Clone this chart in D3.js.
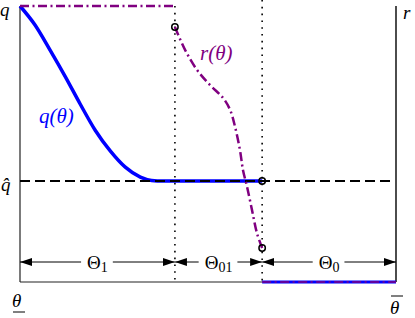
<!DOCTYPE html>
<html>
<head>
<meta charset="utf-8">
<script src="https://cdn.jsdelivr.net/npm/d3@7"></script>
<style>
  body { margin: 0; background: #fff; }
</style>
</head>
<body>
<svg width="415" height="318"></svg>
<script>
// theta runs 0..100 (theta_low .. theta_high), value 0..100 (0 .. q)
var thetaLow = 0, theta1 = 41.2, theta0 = 64.4, thetaHigh = 100;
var qTop = 100, qHat = 36.6;

// q(theta), blue
var qTheta = [0, 4, 8, 12, 16, 20, 24, 28, 32, 35, 38, 64.4];
var qValue = [100, 93.1, 84.0, 74.5, 64.5, 55.0, 47.5, 41.6, 38.0, 36.8, 36.6, 36.6];

// r(theta), purple, between theta1 and theta0
var rTheta = [41.2, 43.9, 47.1, 50.5, 54.0, 55.9, 57.2, 58.5, 59.3, 60.4, 61.7, 63.0, 64.4];
var rValue = [92.4, 84.1, 76.8, 71.4, 66.7, 62.3, 56.2, 47.8, 40.6, 34.4, 26.1, 17.8, 12.3];

// interval labels along the bottom
var segLabels = ["Θ", "Θ", "Θ"];
var segSubs = ["1", "01", "0"];
var segFrom = [thetaLow, theta1, theta0];
var segTo = [theta1, theta0, thetaHigh];

var FONT = "'Liberation Serif', 'Times New Roman', Times, 'DejaVu Serif', serif";

var svg = d3.select("svg");
var x = d3.scaleLinear().domain([0, 100]).range([20, 396]);
var y = d3.scaleLinear().domain([0, 100]).range([282, 6]);

var blue = "#0000ff", purple = "#800080";

// arrow head
svg.append("defs").append("marker")
  .attr("id", "head")
  .attr("viewBox", "0 0 12 8")
  .attr("refX", 12).attr("refY", 4)
  .attr("markerWidth", 12).attr("markerHeight", 8)
  .attr("markerUnits", "userSpaceOnUse")
  .attr("orient", "auto")
  .append("path").attr("d", "M0,0L12,4L0,8Z").attr("fill", "#000");

// frame
svg.append("line").attr("x1", x(0)).attr("x2", x(0)).attr("y1", y(qTop)).attr("y2", y(0))
  .attr("stroke", "#222").attr("stroke-width", 1.2);
svg.append("line").attr("x1", x(100)).attr("x2", x(100)).attr("y1", y(qTop)).attr("y2", y(0))
  .attr("stroke", "#000").attr("stroke-width", 1.4);
svg.append("line").attr("x1", x(0)).attr("x2", x(theta0)).attr("y1", y(0)).attr("y2", y(0))
  .attr("stroke", "#222").attr("stroke-width", 1.2);

// dotted verticals
svg.append("line").attr("x1", x(theta1)).attr("x2", x(theta1)).attr("y1", y(qTop)).attr("y2", y(0))
  .attr("stroke", "#000").attr("stroke-width", 1.6).attr("stroke-dasharray", "1.6,5.2");
svg.append("line").attr("x1", x(theta0)).attr("x2", x(theta0)).attr("y1", 0).attr("y2", y(0))
  .attr("stroke", "#000").attr("stroke-width", 1.6).attr("stroke-dasharray", "1.6,5.2");

var qLine = d3.line().curve(d3.curveMonotoneX)
  .x(function(d) { return x(d[0]); })
  .y(function(d) { return y(d[1]); });
var rLine = d3.line().curve(d3.curveCatmullRom.alpha(0.5))
  .x(function(d) { return x(d[0]); })
  .y(function(d) { return y(d[1]); });

// q(theta)
svg.append("path").attr("d", qLine(d3.zip(qTheta, qValue)))
  .attr("fill", "none").attr("stroke", blue).attr("stroke-width", 3.5);
svg.append("line").attr("x1", x(theta0)).attr("x2", x(thetaHigh)).attr("y1", y(0)).attr("y2", y(0))
  .attr("stroke", blue).attr("stroke-width", 3);

// q-hat dashed line on top
svg.append("line").attr("x1", x(0)).attr("x2", x(98.5)).attr("y1", y(qHat)).attr("y2", y(qHat))
  .attr("stroke", "#000").attr("stroke-width", 2).attr("stroke-dasharray", "10,5");

// r(theta)
var dashDot = "9,3.5,2,3.5";
svg.append("line").attr("x1", x(thetaLow)).attr("x2", x(theta1)).attr("y1", y(qTop)).attr("y2", y(qTop))
  .attr("stroke", purple).attr("stroke-width", 2.5).attr("stroke-dasharray", dashDot);
svg.append("path").attr("d", rLine(d3.zip(rTheta, rValue)))
  .attr("fill", "none").attr("stroke", purple).attr("stroke-width", 2.5).attr("stroke-dasharray", dashDot);
svg.append("line").attr("x1", x(theta0)).attr("x2", x(thetaHigh)).attr("y1", y(0)).attr("y2", y(0))
  .attr("stroke", purple).attr("stroke-width", 1.5).attr("stroke-dasharray", dashDot);

// open circles
var circ = [[theta1, rValue[0]], [theta0, qHat], [theta0, rValue[rValue.length - 1]]];
svg.selectAll("circle.pt").data(circ).enter().append("circle")
  .attr("cx", function(d) { return x(d[0]); })
  .attr("cy", function(d) { return y(d[1]); })
  .attr("r", 3.2).attr("fill", "none").attr("stroke", "#000").attr("stroke-width", 1.5);

// interval arrows
var arrowY = 262;
segLabels.forEach(function(lab, i) {
  var x0 = x(segFrom[i]), x1 = x(segTo[i]), cx = (x0 + x1) / 2;
  var t = svg.append("text").attr("x", cx).attr("y", arrowY + 7)
    .attr("text-anchor", "middle").attr("font-size", 19).attr("font-family", FONT);
  t.append("tspan").text(lab);
  t.append("tspan").attr("font-size", 14).attr("dy", 3).text(segSubs[i]);
  var bb = t.node().getBBox();
  svg.append("line").attr("x1", bb.x - 6).attr("x2", x0).attr("y1", arrowY).attr("y2", arrowY)
    .attr("stroke", "#000").attr("stroke-width", 1).attr("marker-end", "url(#head)");
  svg.append("line").attr("x1", bb.x + bb.width + 5).attr("x2", x1).attr("y1", arrowY).attr("y2", arrowY)
    .attr("stroke", "#000").attr("stroke-width", 1).attr("marker-end", "url(#head)");
});

// labels
function label(tx, ty, str, col, size) {
  return svg.append("text").attr("x", tx).attr("y", ty).attr("font-size", size || 19)
    .attr("font-family", FONT)
    .attr("font-style", "italic").attr("fill", col || "#000").text(str);
}
label(0, 16, "q");
label(1, 191, "q\u0302");
label(403, 19, "r");
label(39, 123, "q(θ)", blue, 21);
label(200, 60, "r(θ)", purple, 21);
label(12, 307, "θ");
svg.append("line").attr("x1", 13).attr("x2", 25).attr("y1", 312).attr("y2", 312)
  .attr("stroke", "#000").attr("stroke-width", 1);
label(390, 314, "θ");
svg.append("line").attr("x1", 391).attr("x2", 403).attr("y1", 296).attr("y2", 296)
  .attr("stroke", "#000").attr("stroke-width", 1);
</script>
</body>
</html>
